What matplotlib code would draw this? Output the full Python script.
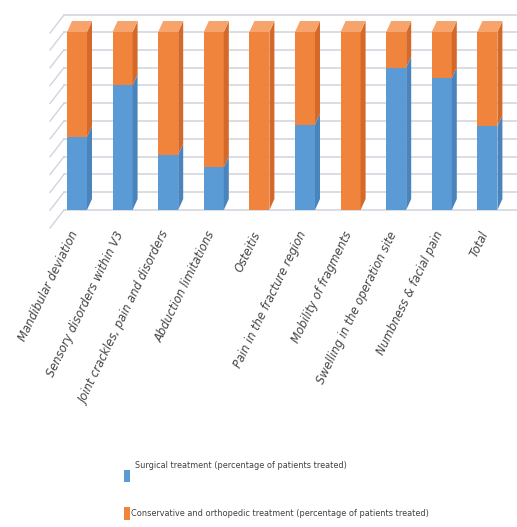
import matplotlib
matplotlib.use("Agg")
import matplotlib.pyplot as plt
from matplotlib.patches import Polygon, Rectangle

categories = [
    "Mandibular deviation",
    "Sensory disorders within V3",
    "Joint crackles, pain and disorders",
    "Abduction limitations",
    "Osteitis",
    "Pain in the fracture region",
    "Mobility of fragments",
    "Swelling in the operation site",
    "Numbness & facial pain",
    "Total",
]
surgical = [41, 70, 31, 24, 0, 48, 0, 80, 74, 47]
conservative = [59, 30, 69, 76, 100, 52, 100, 20, 26, 53]
series_names = [
    "Surgical treatment (percentage of patients treated)",
    "Conservative and orthopedic treatment (percentage of patients treated)",
]
grid_values = list(range(0, 101, 10))

W, H = 517, 527
fig = plt.figure(figsize=(W / 100, H / 100), dpi=100)
ax = fig.add_axes([0, 0, 1, 1])

# pixel geometry of the category/value scales
X0, XS = 77, 45.6     # px of first category centre, px per category
Y0, YS = 210, 1.78    # px of 0 %, px per percent
ax.set_xlim(-X0 / XS, (W - X0) / XS)
ax.set_ylim((Y0 - H) / YS, Y0 / YS)
ax.axis("off")

def px_w(p):
    return p / XS

def px_h(p):
    return p / YS

bar_w = px_w(20)
dep_x, dep_y = px_w(5), px_h(11)

grid_col = "#cfd5dd"
x_wall = px_w(64 - X0)
x_end = (W - X0) / XS
# back wall gridlines and side wall diagonals
for v in grid_values + [px_h(Y0 - 15)]:
    ax.plot([x_wall, x_end], [v, v], color=grid_col, lw=1.1, zorder=1)
    ax.plot([x_wall - px_w(14), x_wall], [v - px_h(18), v],
            color=grid_col, lw=1.0, zorder=1)

colors = {
    "blue": ("#5b9bd5", "#4a84bd", "#7fb2e0"),
    "orange": ("#f0843c", "#d5692a", "#f6a46c"),
}

def box(xc, y0, y1, cols, top=False):
    front, side, topc = cols
    xl, xr = xc - bar_w / 2, xc + bar_w / 2
    ax.add_patch(Rectangle((xl, y0), bar_w, y1 - y0, facecolor=front,
                           edgecolor="none", zorder=3))
    ax.add_patch(Polygon([(xr, y0), (xr + dep_x, y0 + dep_y),
                          (xr + dep_x, y1 + dep_y), (xr, y1)],
                         closed=True, facecolor=side, edgecolor="none", zorder=3))
    if top:
        ax.add_patch(Polygon([(xl, y1), (xr, y1), (xr + dep_x, y1 + dep_y),
                              (xl + dep_x, y1 + dep_y)],
                             closed=True, facecolor=topc, edgecolor="none", zorder=3))

for i, (s, c) in enumerate(zip(surgical, conservative)):
    if s > 0:
        box(i, 0, s, colors["blue"], top=(c == 0))
    if c > 0:
        box(i, s, s + c, colors["orange"], top=True)

# category labels
for i, cat in enumerate(categories):
    ax.text(i - px_w(2), -px_h(22), cat, rotation=64, rotation_mode="anchor",
            ha="right", va="center", fontsize=8.3, style="italic",
            color="#454545", zorder=4)

# legend
fig.add_artist(Rectangle((124 / W, 1 - 482 / H), 6 / W, 12 / H,
                         transform=fig.transFigure, facecolor=colors["blue"][0],
                         edgecolor="none"))
fig.text(135 / W, 1 - 466 / H, series_names[0], fontsize=5.9,
         color="#404040", va="center", ha="left")
fig.add_artist(Rectangle((124 / W, 1 - 520 / H), 6 / W, 13 / H,
                         transform=fig.transFigure, facecolor=colors["orange"][0],
                         edgecolor="none"))
fig.text(131 / W, 1 - 513 / H, series_names[1], fontsize=5.9,
         color="#404040", va="center", ha="left")

fig.savefig("out.png", dpi=100)
